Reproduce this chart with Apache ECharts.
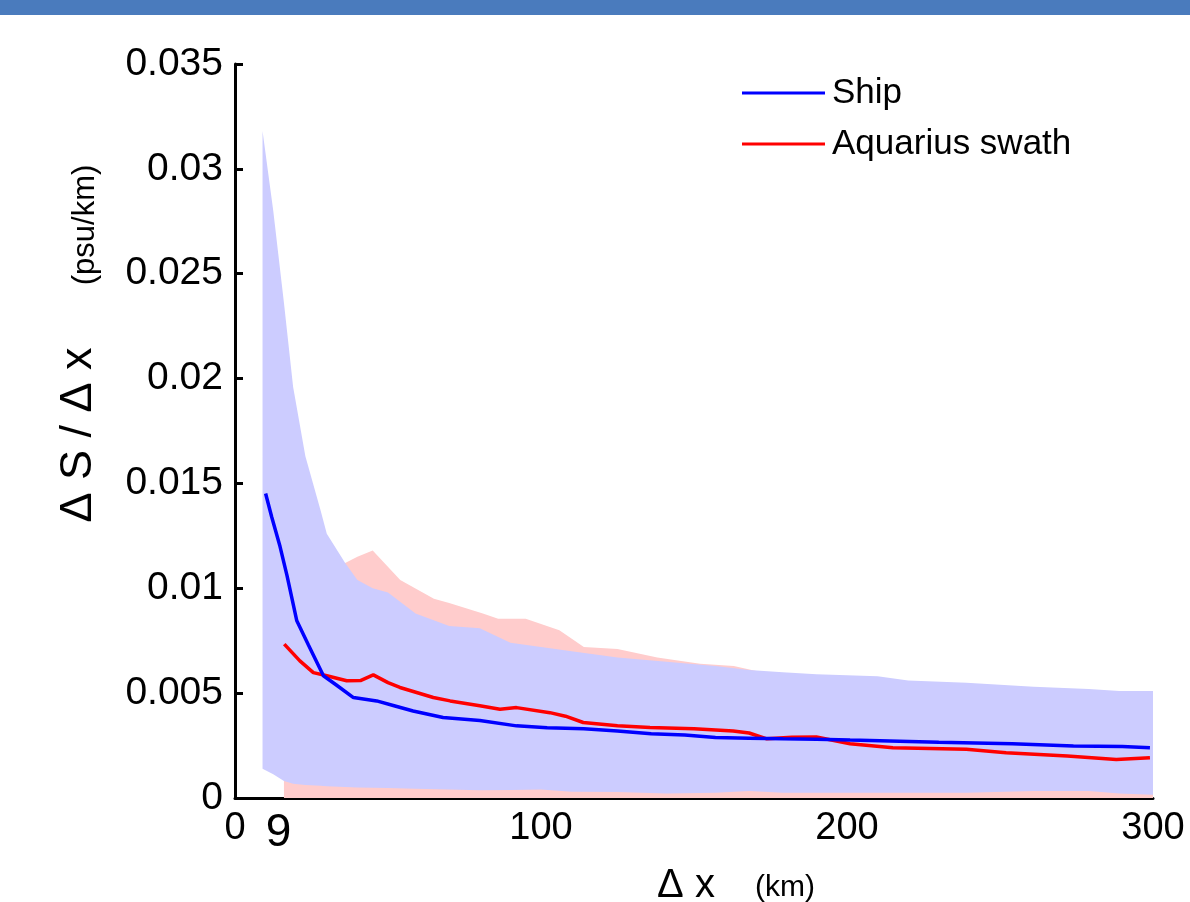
<!DOCTYPE html>
<html><head><meta charset="utf-8">
<script src="https://cdn.jsdelivr.net/npm/echarts@6/dist/echarts.min.js"></script>
<style>html,body{margin:0;padding:0;background:#fff}#c{width:1190px;height:902px}</style>
</head><body><div id="c"></div>
<script>
// ---- data ----
const xTickValues = [0, 9, 100, 200, 300];
const seriesNames = ['Ship', 'Aquarius swath'];

const shipLineX = [10, 12, 14.7, 17, 20.2, 24, 28.9, 33, 38.7, 46.3, 52, 58.2, 68, 80, 92, 102, 114, 125, 136, 147, 157, 168, 179, 190, 201, 214, 230, 254, 274, 290, 299];
const shipLineY = [0.01452, 0.0134, 0.0120, 0.0106, 0.00845, 0.0073, 0.00583, 0.0054, 0.00479, 0.00463, 0.0044, 0.00415, 0.00384, 0.0037, 0.00344, 0.00335, 0.0033, 0.0032, 0.00306, 0.0030, 0.00288, 0.00285, 0.00282, 0.0028, 0.00276, 0.00272, 0.00266, 0.00259, 0.00248, 0.00245, 0.0024];

const swathLineX = [16.1, 21.2, 25.6, 30, 36.5, 41, 45.2, 50, 53.9, 64.8, 70.3, 80, 86.6, 92, 102.9, 108, 113.8, 125, 135.6, 150, 162.8, 168, 173.8, 182, 190, 201, 215, 239, 252, 272, 288, 299];
const swathLineY = [0.00734, 0.00654, 0.00598, 0.00583, 0.00559, 0.0056, 0.00587, 0.0055, 0.00527, 0.00479, 0.00463, 0.0044, 0.00423, 0.00431, 0.00407, 0.0039, 0.0036, 0.00345, 0.00336, 0.0033, 0.0032, 0.0031, 0.00282, 0.0029, 0.00291, 0.00259, 0.0024, 0.00232, 0.00216, 0.002, 0.00184, 0.00192];

const shipBandX = [9, 12.5, 16, 19, 23, 28, 30, 36, 40, 45, 50, 59, 70, 80, 90, 100, 110, 125, 141, 157, 168, 179, 190, 210, 220, 239, 261, 279, 289, 300];
const shipBandUpper = [0.0318, 0.0280, 0.0236, 0.0196, 0.0163, 0.0137, 0.0126, 0.0112, 0.0104, 0.0100, 0.0098, 0.0088, 0.0082, 0.0081, 0.0074, 0.0072, 0.0070, 0.0067, 0.0065, 0.0063, 0.0061, 0.0060, 0.0059, 0.0058, 0.0056, 0.0055, 0.0053, 0.0052, 0.0051, 0.0051];
const shipBandLower = [0.00140, 0.00113, 0.00081, 0.00068, 0.00062, 0.00058, 0.00056, 0.00052, 0.00050, 0.00049, 0.00048, 0.00044, 0.00040, 0.00037, 0.00038, 0.00041, 0.00030, 0.00029, 0.00022, 0.00025, 0.00033, 0.00025, 0.00025, 0.00025, 0.00025, 0.00025, 0.00033, 0.00033, 0.00022, 0.00015];

const swathBandX = [16, 25, 36, 40, 45, 54, 65, 70, 81, 86, 95, 106, 114, 125, 138, 152, 163, 175, 200, 250, 300];
const swathBandUpper = [0.0108, 0.0110, 0.0112, 0.0115, 0.0118, 0.0104, 0.0095, 0.0093, 0.0088, 0.00855, 0.00855, 0.0080, 0.0072, 0.0071, 0.0067, 0.0064, 0.0063, 0.0059, 0.0055, 0.0050, 0.0045];
const swathBandLower = [0, 0, 0, 0, 0, 0, 0, 0, 0, 0, 0, 0, 0, 0, 0, 0, 0, 0, 0, 0, 0];

// ---- build ----
const zip = (xs, ys) => xs.map((x, i) => [x, ys[i]]);
const FONT = '"Liberation Sans", Arial, Helvetica, sans-serif';

function band(name, xs, up, lo, color, z) {
  const rows = xs.map((x, i) => [x, lo[i], up[i]]);
  return {
    name: name, type: 'custom', data: rows, z: z, silent: true,
    encode: { x: 0, y: [1, 2] },
    renderItem: function (params, api) {
      if (params.dataIndex !== 0) return null;
      const top = rows.map(r => api.coord([r[0], r[2]]));
      const bot = rows.slice().reverse().map(r => api.coord([r[0], r[1]]));
      return {
        type: 'polygon',
        shape: { points: top.concat(bot) },
        style: { fill: color, stroke: null }
      };
    }
  };
}

const chart = echarts.init(document.getElementById('c'), null, { renderer: 'canvas' });
chart.setOption({
  animation: false,
  backgroundColor: '#ffffff',
  textStyle: { fontFamily: FONT },
  grid: { left: 235, right: 37, top: 64, bottom: 104, containLabel: false },
  legend: {
    data: seriesNames,
    orient: 'vertical', left: 737, top: 68,
    icon: 'rect', itemWidth: 83, itemHeight: 3, itemGap: 11,
    textStyle: { fontSize: 35, color: '#000', fontFamily: FONT, lineHeight: 40, padding: [0, 0, 0, 2] }
  },
  xAxis: {
    type: 'value', min: 0, max: 300, interval: 100,
    axisLine: { lineStyle: { color: '#000', width: 3 } },
    axisTick: { show: false },
    splitLine: { show: false },
    axisLabel: {
      customValues: xTickValues,
      fontSize: 38, color: '#000', margin: 12, fontFamily: FONT,
      formatter: v => v === 9 ? '{nine|9}' : String(v),
      rich: { nine: { fontSize: 46, color: '#000', padding: [0, 0, 0, 32], fontFamily: FONT } }
    }
  },
  yAxis: {
    type: 'value', min: 0, max: 0.035, interval: 0.005,
    axisLine: { show: true, lineStyle: { color: '#000', width: 3 } },
    axisTick: { show: true, inside: true, length: 8, lineStyle: { color: '#000', width: 3 } },
    splitLine: { show: false },
    axisLabel: {
      fontSize: 39, color: '#000', margin: 12, fontFamily: FONT,
      formatter: v => v === 0 ? '0' : v.toFixed(3).replace(/0+$/, '')
    }
  },
  graphic: [
    { type: 'rect', left: 0, top: 0, shape: { width: 1190, height: 15 }, style: { fill: '#4a7bbd' }, z: 100 },
    { type: 'text', x: 79, y: 435, rotation: Math.PI / 2,
      style: { text: 'Δ S / Δ x', font: '45px ' + FONT, fill: '#000', align: 'center', verticalAlign: 'middle' } },
    { type: 'text', x: 85, y: 225, rotation: Math.PI / 2,
      style: { text: '(psu/km)', font: '31px ' + FONT, fill: '#000', align: 'center', verticalAlign: 'middle' } },
    { type: 'text', x: 686, y: 886,
      style: { text: 'Δ x', font: '40px ' + FONT, fill: '#000', align: 'center', verticalAlign: 'middle' } },
    { type: 'text', x: 785, y: 888,
      style: { text: '(km)', font: '30px ' + FONT, fill: '#000', align: 'center', verticalAlign: 'middle' } }
  ],
  series: [
    band('swath_band', swathBandX, swathBandUpper, swathBandLower, '#ffcccc', 1),
    band('ship_band', shipBandX, shipBandUpper, shipBandLower, '#ccccff', 2),
    { name: 'Aquarius swath', type: 'line', data: zip(swathLineX, swathLineY), symbol: 'none',
      lineStyle: { color: '#ff0000', width: 3.5 }, itemStyle: { color: '#ff0000' }, z: 5 },
    { name: 'Ship', type: 'line', data: zip(shipLineX, shipLineY), symbol: 'none',
      lineStyle: { color: '#0000ff', width: 3.5 }, itemStyle: { color: '#0000ff' }, z: 6 }
  ]
});
</script>
</body></html>
